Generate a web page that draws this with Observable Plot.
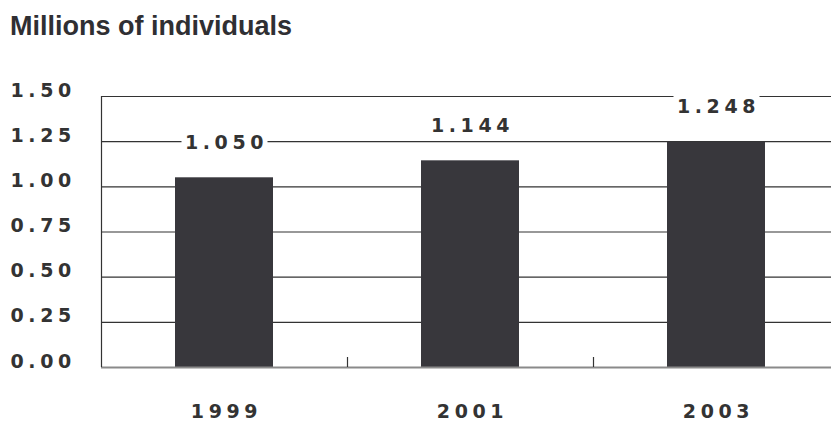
<!DOCTYPE html>
<html>
<head>
<meta charset="utf-8">
<script src="https://cdn.jsdelivr.net/npm/d3@7"></script>
<script src="https://cdn.jsdelivr.net/npm/@observablehq/plot@0.6"></script>
<style>
  html, body { margin: 0; padding: 0; background: #fff; }
  #title {
    height: 60px; box-sizing: border-box; padding: 13px 0 0 10px;
    font: bold 27px "Liberation Sans", Arial, sans-serif; line-height: 27px;
    color: #2f2f33; white-space: nowrap;
  }
  .chart text { letter-spacing: 4.6px; }
</style>
</head>
<body>
<div id="title">Millions of individuals</div>
<div id="chart"></div>
<script>
const years = ["1999", "2001", "2003"];
const values = [1.050, 1.144, 1.248];
const yTicks = [0, 0.25, 0.5, 0.75, 1.0, 1.25, 1.5];

const data = years.map((y, i) => ({year: y, value: values[i]}));

const W = 831, H = 362, mt = 36, mb = 55, ml = 101;
const xRange = [ml, 839];
const step = (xRange[1] - xRange[0]) / years.length;
const pxPerUnit = (H - mt - mb) / 1.5;
const tickLen = 10 / pxPerUnit;

// rectangular white label box drawn as a custom dot symbol
const boxSymbol = {draw(ctx) { ctx.rect(-43, -12, 86, 24); }};

const font = "'DejaVu Sans', sans-serif";
const chart = Plot.plot({
  width: W, height: H,
  marginTop: mt, marginBottom: mb, marginLeft: ml, marginRight: 0,
  className: "chart",
  style: {fontFamily: font, fontWeight: "bold", color: "#333", background: "#fff"},
  x: {domain: years, range: xRange, paddingInner: 0.6, paddingOuter: 0.3, label: null},
  y: {domain: [0, 1.5], label: null},
  marks: [
    Plot.ruleY(yTicks.filter(d => d > 0), {stroke: "#333", strokeWidth: 1.2}),
    Plot.barY(data, {x: "year", y: "value", fill: "#38373c"}),
    Plot.ruleY([0], {stroke: "#8a8a8a", strokeWidth: 2}),
    Plot.ruleX(years.slice(0, -1), {x: d => d, dx: step / 2, y1: 0, y2: tickLen, stroke: "#333", strokeWidth: 1.2}),
    Plot.ruleX(years.slice(0, 1), {x: d => d, dx: -step / 2, y1: 0, y2: 1.5, stroke: "#333", strokeWidth: 1.2}),
    Plot.dot(data, {x: "year", y: "value", dy: -35, symbol: boxSymbol, fill: "white", stroke: null}),
    Plot.text(data, {x: "year", y: "value", text: d => d.value.toFixed(3), dy: -35, dx: 2,
      fontSize: 19, fontWeight: "bold", fill: "#333"}),
    Plot.axisY(yTicks, {tickSize: 0, tickPadding: 0, textAnchor: "start", dx: -91, dy: -6,
      tickFormat: d => d.toFixed(2), fontSize: 19, fontWeight: "bold", fill: "#333"}),
    Plot.axisX({tickSize: 0, tickPadding: 37, fontSize: 19, fontWeight: "bold", fill: "#333", dx: 2})
  ]
});
document.getElementById("chart").appendChild(chart);
</script>
</body>
</html>
